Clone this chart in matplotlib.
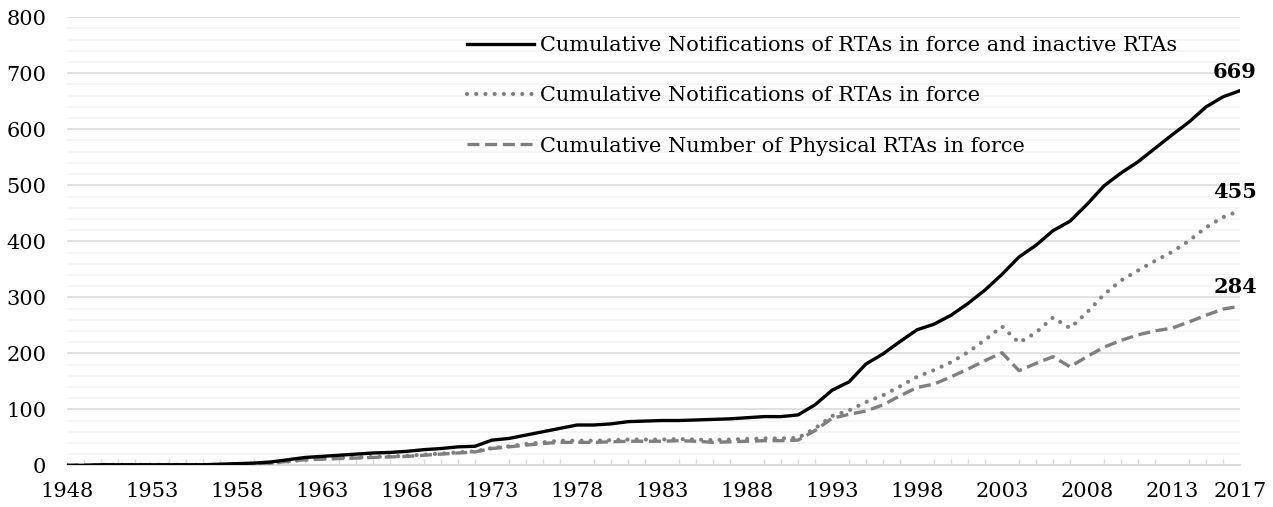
import numpy as np
import matplotlib
matplotlib.use('Agg')
import matplotlib.pyplot as plt
from matplotlib.ticker import MultipleLocator

years = list(range(1948, 2018))

# cumulative notifications, in force + inactive
total = [0, 0, 1, 1, 1, 1, 1, 1, 1, 2,
         3, 4, 6, 10, 14, 16, 18, 20, 22, 23,
         25, 28, 30, 33, 34, 45, 48, 54, 60, 66,
         72, 72, 74, 78, 79, 80, 80, 81, 82, 83,
         85, 87, 87, 90, 108, 134, 149, 181, 199, 221,
         242, 252, 268, 289, 313, 341, 372, 393, 419, 436,
         466, 499, 522, 542, 566, 590, 613, 640, 658, 669]

# cumulative notifications, in force
in_force = [0, 0, 1, 1, 1, 1, 1, 1, 1, 1,
            2, 3, 4, 7, 10, 12, 13, 14, 15, 16,
            17, 19, 21, 23, 25, 31, 34, 38, 41, 44,
            44, 44, 45, 46, 46, 46, 47, 46, 45, 46,
            47, 48, 48, 49, 66, 88, 98, 113, 125, 141,
            158, 170, 184, 202, 224, 248, 219, 237, 264, 245,
            273, 305, 330, 348, 365, 381, 401, 425, 443, 455]

# cumulative number of physical RTAs in force
physical = [0, 0, 1, 1, 1, 1, 1, 1, 1, 1,
            2, 3, 4, 7, 10, 11, 12, 13, 14, 15,
            16, 18, 20, 22, 24, 30, 33, 36, 39, 41,
            41, 41, 42, 43, 43, 43, 44, 43, 41, 42,
            43, 44, 44, 45, 62, 84, 91, 97, 108, 124,
            139, 145, 158, 172, 187, 201, 169, 182, 194, 176,
            194, 211, 223, 233, 240, 245, 256, 268, 279, 284]

labels = ['Cumulative Notifications of RTAs in force and inactive RTAs',
          'Cumulative Notifications of RTAs in force',
          'Cumulative Number of Physical RTAs in force']
xlabels = [1948, 1953, 1958, 1963, 1968, 1973, 1978, 1983, 1988, 1993,
           1998, 2003, 2008, 2013, 2017]

plt.rcParams['font.family'] = ['DejaVu Serif']
fs = 15

fig = plt.figure(figsize=(12.73, 5.07), dpi=100)
ax = fig.add_axes([0.0526, 0.0822, 0.9215, 0.8837])

grey = '#7f7f7f'
ax.plot(years, total, color='black', lw=2.4, solid_joinstyle='round', label=labels[0], zorder=4)
ax.plot(years, in_force, color=grey, lw=3.0, linestyle=(0, (0.01, 2.2)),
        dash_capstyle='round', label=labels[1], zorder=3)
ax.plot(years, physical, color=grey, lw=2.4, linestyle=(0, (3.6, 1.7)),
        label=labels[2], zorder=3)

# end labels
for series in (total, in_force, physical):
    ax.annotate(str(series[-1]), (years[-1], series[-1]), xytext=(-5, 9),
                textcoords='offset pixels', ha='center', va='bottom',
                fontsize=fs, fontweight='bold', annotation_clip=False)

ax.set_xlim(1948, 2017)
ax.set_ylim(0, 800)
ax.yaxis.set_major_locator(MultipleLocator(100))
ax.yaxis.set_minor_locator(MultipleLocator(20))
ax.set_xticks(xlabels)
ax.set_xticks(years, minor=True)

ax.grid(axis='y', which='major', color='#d9d9d9', lw=1.1)
ax.grid(axis='y', which='minor', color='#f2f2f2', lw=1.1)
ax.set_axisbelow(True)

for s in ['top', 'right', 'left']:
    ax.spines[s].set_visible(False)
ax.spines['bottom'].set_color('#d9d9d9')
ax.spines['bottom'].set_linewidth(1.3)

ax.tick_params(axis='y', which='both', length=0, pad=15, labelsize=fs)
ax.tick_params(axis='x', which='major', direction='in', length=0, pad=12, labelsize=fs)
ax.tick_params(axis='x', which='minor', direction='in', length=4, width=1, color='#d9d9d9')

ax.legend(loc='upper left', bbox_to_anchor=(0.325, 1.0), frameon=False,
          fontsize=fs, handlelength=3.2, handletextpad=0.3, labelspacing=1.5)

fig.savefig('out.png', dpi=100)
